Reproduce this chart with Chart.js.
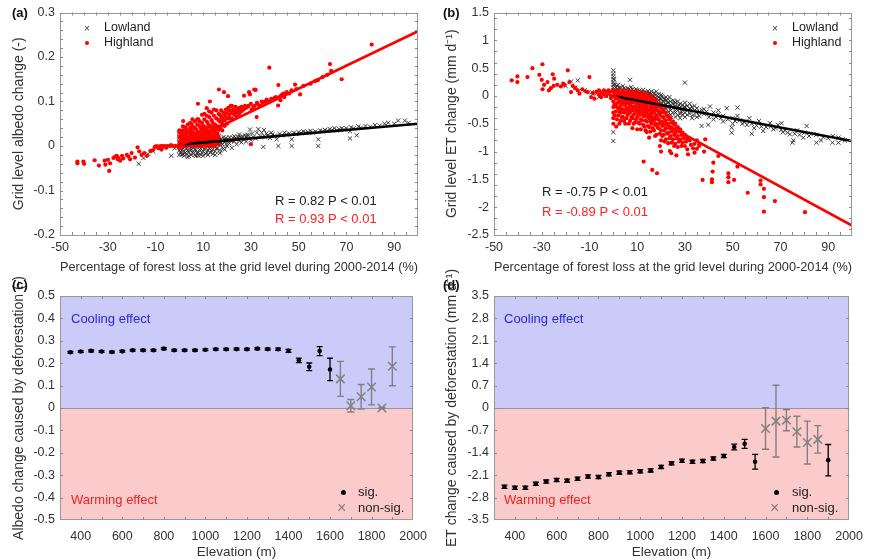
<!DOCTYPE html>
<html><head><meta charset="utf-8">
<script src="https://cdn.jsdelivr.net/npm/chart.js@4.4.1/dist/chart.umd.min.js"></script>
<style>
body{margin:0;background:#fff;}
#wrap{position:relative;width:872px;height:560px;overflow:hidden;font-family:"Liberation Sans",Arial,sans-serif;color:#222;}
canvas{position:absolute;}
.t{position:absolute;white-space:nowrap;font-size:13px;line-height:15px;}
.b{font-weight:bold;color:#111;}
.dot{position:absolute;border-radius:50%;}
</style></head><body><div id="wrap">
<canvas id="ca" width="436" height="280" style="left:0;top:0"></canvas>
<canvas id="cb" width="436" height="280" style="left:436px;top:0"></canvas>
<canvas id="cc" width="436" height="298" style="left:0;top:262px"></canvas>
<canvas id="cd" width="436" height="298" style="left:436px;top:262px"></canvas>

<div class="t b" style="left:12px;top:5px">(a)</div>
<div class="t b" style="left:443px;top:5px">(b)</div>
<div class="t b" style="left:12px;top:277px">(c)</div>
<div class="t b" style="left:443px;top:277px">(d)</div>

<div class="t" style="left:84px;top:21px;font-size:10px;color:#333">×</div>
<div class="t" style="left:104px;top:20px;font-size:12.5px">Lowland</div>
<div class="dot" style="left:85px;top:41px;width:4px;height:4px;background:#ff0000"></div>
<div class="t" style="left:104px;top:35px;font-size:12.5px">Highland</div>
<div class="t" style="left:772px;top:21px;font-size:10px;color:#333">×</div>
<div class="t" style="left:792px;top:20px;font-size:12.5px">Lowland</div>
<div class="dot" style="left:773px;top:41px;width:4px;height:4px;background:#ff0000"></div>
<div class="t" style="left:792px;top:35px;font-size:12.5px">Highland</div>

<div class="t" style="left:275px;top:193px;color:#222">R = 0.82 P &lt; 0.01</div>
<div class="t" style="left:275px;top:211px;color:#ff2020">R = 0.93 P &lt; 0.01</div>
<div class="t" style="left:542px;top:184px;color:#222">R = -0.75 P &lt; 0.01</div>
<div class="t" style="left:542px;top:204px;color:#ff2020">R = -0.89 P &lt; 0.01</div>

<div class="t" style="left:71px;top:311px;color:#2626e6">Cooling effect</div>
<div class="t" style="left:71px;top:492px;color:#ee2222">Warming effect</div>
<div class="t" style="left:504px;top:311px;color:#2626e6">Cooling effect</div>
<div class="t" style="left:504px;top:492px;color:#ee2222">Warming effect</div>

<div class="dot" style="left:341px;top:490px;width:5px;height:5px;background:#000"></div>
<div class="t" style="left:358px;top:484px">sig.</div>
<div class="t" style="left:337px;top:499px;font-size:16px;line-height:18px;color:#808080">×</div>
<div class="t" style="left:358px;top:500px">non-sig.</div>
<div class="dot" style="left:774px;top:490px;width:5px;height:5px;background:#000"></div>
<div class="t" style="left:792px;top:484px">sig.</div>
<div class="t" style="left:770px;top:499px;font-size:16px;line-height:18px;color:#808080">×</div>
<div class="t" style="left:792px;top:500px">non-sig.</div>
</div>
<script>
// ---------- DATA ----------
const forestTicks = [-50,-30,-10,10,30,50,70,90];
const albedoTicks = [-0.2,-0.1,0,0.1,0.2,0.3];
const etTicks = [-2.5,-2,-1.5,-1,-0.5,0,0.5,1,1.5];
const elevTicks = [400,600,800,1000,1200,1400,1600,1800,2000];
const albedoElevTicks = [-0.5,-0.4,-0.3,-0.2,-0.1,0,0.1,0.2,0.3,0.4,0.5];
const etElevTicks = [-3.5,-2.8,-2.1,-1.4,-0.7,0,0.7,1.4,2.1,2.8,3.5];

// (a) albedo change vs forest loss
const lowlandA = [[-17,-0.04],[-15,-0.027],[-13,-0.018],[-11,-0.012],[-8,-0.004],[-6,-0.002],[-3.4,-0.022],[-2,-0.005],[-1,0],
[0,0.03],[0,0.02],[0,0.01],[0,0],[0,-0.01],[0,-0.02],[0.3,0.025],[0.5,-0.015],
[1,-0.02],[1,-0.01],[1,0.005],[1.5,0.015],[2,-0.022],[2,-0.012],[2,0],[2.5,0.01],[3,-0.018],[3,-0.006],[3,0.008],[3.5,-0.025],[4,-0.015],[4,0],[4.5,0.012],[5,-0.02],[5,-0.008],[5,0.004],[5.5,0.015],[6,-0.017],[6,-0.004],[6.5,0.008],[7,-0.022],[7,-0.01],[7,0.003],[7.5,0.014],[8,-0.015],[8,0],[8.5,0.01],[9,-0.02],[9,-0.006],[9.5,0.006],[10,-0.012],[10,0.002],[10.5,0.015],[11,-0.018],[11,-0.004],[11.5,0.01],[12,-0.01],[12,0.004],[12.5,0.018],[13,-0.015],[13,0],[13.5,0.012],[14,-0.008],[14,0.007],[14.5,0.02],[15,-0.012],[15,0.003],[15.5,0.015],[16,-0.005],[16,0.01],[16.5,0.022],[17,-0.01],[17,0.005],[17.5,0.016],[18,-0.003],[18,0.012],[18.5,0.02],[19,-0.008],[19,0.008],[19.5,0.018],[20,0],[20,0.012],[21,0.006],[21,0.02],[22,-0.004],[22,0.014],[23,0.01],[23,0.022],[24,0.004],[24,0.016],[25,0.012],[25,0.026],[26,0.008],[26,0.018],[27,0.015],[28,0.02],[28,0.01],[29,0.024],[29.6,0.037],[30,0.014],[31,0.02],[32,0.017],[33.1,0.038],[34,0.022],[35.2,-0.002],[35.5,0.036],[36,0.02],[37,0.024],[38,0.018],[39,0.026],[40,0.023],[40.8,0.015],[41.5,0],[42,0.027],[43,0.024],[44,0.03],[45,0.026],[46,0.028],[47.1,0.015],[47.1,0],[48,0.03],[49,0.027],[50,0.031],[51,0.029],[52,0.033],[53,0.03],[54,0.031],[55,0.034],[56,0.03],[57,0.033],[58.2,0.015],[58.2,0],[59,0.035],[60,0.033],[61,0.036],[62,0.034],[63,0.038],[64,0.036],[65,0.04],[66,0.035],[67,0.038],[68,0.04],[69,0.037],[70,0.04],[71.5,0.017],[71.5,0.033],[72,0.042],[73,0.04],[74.3,0.024],[75,0.044],[76,0.041],[78,0.045],[80,0.043],[82,0.047],[84,0.046],[86,0.05],[87.5,0.052],[90,0.05],[91.7,0.057],[94.5,0.057],[96,0.052],
[0.5,0],[1,0.018],[1.5,-0.018],[1.5,-0.005],[2,0.012],[2.5,-0.015],[2.5,-0.002],[3,0.018],[3.5,-0.01],[3.5,0.004],[4,-0.022],[4,0.01],[4.5,-0.008],[5,0.014],[5.5,-0.014],[5.5,0],[6,0.01],[6.5,-0.02],[6.5,-0.008],[7,0.012],[7.5,-0.016],[7.5,0],[8,-0.022],[8,0.01],[8.5,-0.008],[9,0.014],[9.5,-0.015],[9.5,-0.002],[10,-0.022],[10,0.012],[10.5,-0.006],[11,0.006],[11.5,-0.014],[11.5,0],[12,-0.02],[12,0.014],[12.5,-0.006],[13,0.006],[13.5,-0.01],[14,-0.018],[14,0.014],[14.5,0],[15,-0.02],[15,0.01],[15.5,-0.006],[16,0.004],[16.5,0.014],[17,-0.016],[17.5,0.008],[18,0.004],[18.5,-0.006],[19,0.014],[20,0.006],[20.5,0.015],[21.5,0.012],[22.5,0.018],[23.5,0.016],[24.5,0.02],[25.5,0.02],[26.5,0.022],[27.5,0.024],[28.5,0.025],[30.5,0.028],[32.5,0.03],[34.5,0.03],[36.5,0.028],[38.5,0.03]];
const highlandA = [[-42.7,-0.039],[-42.7,-0.035],[-40.2,-0.035],[-39.9,-0.04],[-35.5,-0.032],[-33.7,-0.044],[-31.3,-0.033],[-31,-0.042],[-29.9,-0.031],[-29.4,-0.056],[-29,-0.039],[-27.6,-0.027],[-26.9,-0.024],[-26.2,-0.022],[-25.5,-0.027],[-24.8,-0.033],[-25.8,-0.03],[-24,-0.022],[-23.5,-0.028],[-22,-0.02],[-21.3,-0.024],[-20.6,-0.03],[-20,-0.016],[-18.6,-0.026],[-17.5,-0.003],[-16.8,-0.012],[-15.8,-0.02],[-14.7,-0.016],[-13.6,-0.022],[-12.1,-0.011],[-11,-0.009],[-10.3,-0.002],[-9.5,0],[-8.8,-0.005],[-8,0],[-7,0],[-6,0],[-5.5,-0.004],[-5,0],[-4,0],[-3,0],[-2,0],[-1,0],[-7.5,-0.008],[-3.5,0.002],
[0,0.035],[0,0.03],[0,0.02],[0,0.01],[0,0],[0,-0.005],
[1,0],[1,0.012],[1,0.025],[1.6,0.056],[1.5,0.035],[2,0.005],[2,0.018],[2,0.03],[2.5,0.042],[3,0],[3,0.012],[3,0.024],[3,0.036],[3.5,0.048],[4,0.006],[4,0.018],[4,0.03],[4.5,0.04],[5,0],[5,0.012],[5,0.024],[5,0.035],[5,0.05],[5.5,0.06],[6,0.006],[6,0.018],[6,0.03],[6,0.042],[6.5,0.055],[7,0],[7,0.012],[7,0.025],[7,0.038],[7.5,0.048],[7.8,0.095],[8,0.006],[8,0.02],[8,0.032],[8,0.06],[8.5,0.045],[9,0],[9,0.014],[9,0.028],[9,0.04],[9.5,0.052],[9.5,0.07],[10,0.006],[10,0.02],[10,0.034],[10,0.046],[10.5,0.06],[11,0],[11,0.014],[11,0.028],[11,0.042],[11.5,0.055],[11.5,0.085],[12,0.008],[12,0.022],[12,0.036],[12,0.05],[12.5,0.065],[12.8,0.1],[13,0],[13,0.016],[13,0.03],[13,0.045],[13.5,0.058],[13.5,0.075],[14,0.008],[14,0.024],[14,0.038],[14,0.052],[14.5,0.068],[15,0.002],[15,0.018],[15,0.034],[15,0.048],[15.5,0.062],[15.5,0.08],[16,0.012],[16,0.028],[16,0.044],[16.6,0.127],[16.5,0.058],[16.5,0.072],[17,0.04],[17,0.055],[17.5,0.066],[18,0.05],[18,0.062],[18.7,0.121],[18.5,0.075],[19,0.058],[19,0.07],[19.5,0.082],[20,0.062],[20,0.074],[20.4,0.112],[20.5,0.086],[21,0.07],[21,0.08],[22,0.062],[22,0.075],[22,0.09],[22.6,0.013],[23,0.078],[23,0.07],[24,0.08],[24,0.066],[25,0.085],[25,0.072],[26,0.078],[26,0.088],[27.1,0.113],[27,0.082],[28,0.086],[29,0.09],[29.2,0.121],[29.6,0.116],[30,0.004],[30.3,0.082],[31,0.088],[31.4,0.127],[32,0.126],[32.4,0.065],[33,0.093],[34,0.09],[35,0.098],[36.6,0.104],[37,0.1],[37.7,0.176],[38,0.1],[39,0.105],[40,0.108],[41.4,0.091],[41.5,0.137],[42,0.11],[42.4,0.103],[43,0.115],[43.6,0.118],[44,0.11],[45,0.121],[46,0.118],[48.5,0.138],[50.6,0.116],[55,0.14],[58,0.148],[60,0.155],[63.1,0.184],[63.6,0.169],[68,0.15],[80.6,0.228],
[0.5,0.005],[0.5,0.018],[0.5,0.03],[1.5,0.008],[1.5,0.022],[1.5,0.044],[2.5,0.002],[2.5,0.015],[2.5,0.028],[3.5,0.006],[3.5,0.02],[3.5,0.032],[4.5,0.003],[4.5,0.015],[4.5,0.028],[4.5,0.052],[5.5,0.008],[5.5,0.02],[5.5,0.032],[5.5,0.045],[6.5,0.002],[6.5,0.014],[6.5,0.026],[6.5,0.04],[7.5,0.006],[7.5,0.018],[7.5,0.03],[7.5,0.06],[8.5,0.003],[8.5,0.015],[8.5,0.028],[8.5,0.055],[9.5,0.008],[9.5,0.02],[9.5,0.034],[10.5,0.003],[10.5,0.014],[10.5,0.027],[10.5,0.042],[10.5,0.072],[11.5,0.006],[11.5,0.02],[11.5,0.035],[11.5,0.068],[12.5,0],[12.5,0.014],[12.5,0.028],[12.5,0.044],[12.5,0.078],[13.5,0.006],[13.5,0.022],[13.5,0.038],[14.5,0],[14.5,0.016],[14.5,0.03],[14.5,0.045],[14.5,0.082],[15.5,0.008],[15.5,0.024],[15.5,0.04],[16.5,0.004],[16.5,0.02],[16.5,0.036],[17,0.07],[17.5,0.045],[17.5,0.08],[18,0.035],[18.5,0.058],[19,0.045],[19.5,0.065],[20,0.05],[21,0.062],[21.5,0.09],[22.5,0.082],[23.5,0.075],[23.5,0.088],[24.5,0.078],[25.5,0.08],[26.5,0.085],[27.5,0.09],[28.5,0.088],[30,0.095],[31.5,0.09],[32.5,0.097],[34.5,0.1],[36,0.1],[38.5,0.106],[40.5,0.11],[42.5,0.112],[44.5,0.118],[47,0.125],[49,0.128],[52,0.135],[57,0.146],[62,0.16]];
const fitLowA = [[0,0.003],[100,0.05]];
const fitHighA = [[0,0.0],[100,0.258]];

// (b) ET change vs forest loss
const lowlandB = [[-17.7,0.26],[-14.9,0.28],[-20,0.18],[-16,0.15],[-12,0.1],[-9,0.07],[-7,0.04],[-5,0.05],[-4,0.02],[-3,0],[-2,0.03],[-6,-0.02],
[0,0.46],[0,0.4],[0,0.35],[0,0.3],[0,0.25],[0,0.2],[0,0.15],[0,0.1],[0,-0.65],[0,-0.81],[0.3,0.3],[0.5,0.2],
[1,0.15],[1,0.1],[2,0.2],[2,0.12],[3,0.14],[3,0.08],[4,0.18],[4,0.1],[5,0.12],[5,0.06],[6,0.14],[6,0.08],[7,0.29],[7,0.1],[8,0.12],[8,0.05],[9,0.08],[9,0.02],[10,0.1],[10,0.04],[11,0.06],[11,0],[12,0.08],[12,0.02],[13,0.04],[13,-0.02],[14,0.06],[14,0],[15,0.02],[15,-0.04],[16,0.04],[16,-0.02],[17,0],[17,-0.06],[18,0.08],[18,-0.04],[19,-0.02],[19,-0.08],[20,0.02],[20,-0.06],[20,-0.12],[21,-0.04],[21,-0.1],[22,-0.02],[22,-0.08],[22,-0.16],[23,-0.06],[23,-0.12],[23,-0.2],[24,-0.1],[24,-0.16],[24,-0.26],[25,-0.08],[25,-0.14],[25,-0.22],[26,-0.12],[26,-0.18],[26,-0.3],[27,-0.1],[27,-0.2],[27,-0.26],[28,-0.14],[28,-0.22],[28,-0.32],[29,-0.16],[29,-0.24],[30,0.24],[30,-0.12],[30,-0.2],[30,-0.3],[31,-0.18],[31,-0.26],[32,-0.22],[32,-0.32],[33,-0.2],[33.5,-0.34],[34,-0.26],[35,-0.22],[35,-0.3],[36,-0.28],[37,-0.54],[37,-0.25],[38,-0.32],[39,-0.28],[39.8,-0.52],[40.5,-0.19],[41,-0.34],[42,-0.3],[43,-0.38],[44,-0.33],[45,-0.4],[46,-0.36],[47.5,-0.22],[48,-0.42],[49.6,-0.66],[49.6,-0.57],[50,-0.4],[51,-0.45],[52,-0.21],[53,-0.44],[54,-0.5],[55,-0.47],[56,-0.52],[58,-0.68],[58,-0.5],[60,-0.53],[62,-0.55],[62.8,-0.63],[64,-0.56],[65.6,-0.49],[67,-0.6],[68,-0.58],[70.3,-0.61],[70.5,-0.49],[72,-0.62],[73,-0.66],[74,-0.69],[75,-0.84],[75.4,-0.8],[76,-0.68],[78,-0.7],[79.6,-0.75],[81,-0.54],[82,-0.72],[85.1,-0.84],[85,-0.7],[88,-0.74],[90,-0.76],[91.8,-0.84],[94.3,-0.84],[94.3,-0.75],[96,-0.78],
[0.5,0.1],[1,0.05],[1.5,0.18],[2,0.06],[2.5,0.15],[3,0.03],[3.5,0.1],[4,0.05],[4.5,0.14],[5,0],[5.5,0.1],[6,0.03],[6.5,0.12],[7,0.05],[7.5,0.16],[8,0],[8.5,0.09],[9,-0.03],[9.5,0.12],[10,-0.02],[10.5,0.07],[11,0.1],[11.5,0.03],[12,-0.04],[12.5,0.11],[13,0.07],[13.5,0.01],[14,-0.05],[14.5,0.09],[15,0.05],[15.5,-0.02],[16,0.08],[16.5,0],[17,0.05],[17.5,-0.04],[18,0.02],[18.5,-0.1],[19,0.03],[19.5,-0.05],[20,-0.16],[20.5,0],[21,-0.18],[21.5,-0.06],[22,-0.22],[22.5,-0.12],[23,-0.28],[23.5,-0.02],[24,-0.34],[24.5,-0.2],[25,-0.3],[25.5,-0.1],[26,-0.38],[26.5,-0.24],[27,-0.34],[27.5,-0.16],[28,-0.4],[28.5,-0.28],[29,-0.34],[29.5,-0.2],[30,-0.38],[31,-0.34],[32,-0.14],[33,-0.4],[34,-0.18],[35,-0.38],[36,-0.36],[38,-0.24],[40,-0.38],[42,-0.42],[44,-0.26],[46,-0.46],[50,-0.5],[52,-0.36],[57,-0.4],[59,-0.58],[61,-0.45],[66,-0.55],[69,-0.52],[71,-0.65],[77,-0.62],[80,-0.66],[84,-0.68],[87,-0.8],[92,-0.72],[97,-0.8]];
const highlandB = [[-42.6,0.28],[-40.2,0.25],[-40.2,0.35],[-36,0.34],[-33.9,0.5],[-29.7,0.57],[-31,0.38],[-30,0.29],[-29.7,0.12],[-29,0.2],[-27.6,0.25],[-26.2,0.14],[-25.4,0.39],[-24.8,0.31],[-27,0.1],[-25,0.18],[-23.5,0.2],[-22,0.17],[-21,0.22],[-20.5,0.2],[-19.1,0.46],[-18.4,0.25],[-17.7,0.07],[-17,0.18],[-15.9,0.14],[-14.9,0.1],[-14.2,0.04],[-13,0.12],[-11.5,0.08],[-10.7,0.07],[-10,0.34],[-9.3,-0.02],[-8.5,0.05],[-7.9,-0.05],[-7,0.08],[-6,0.1],[-6,0.02],[-5,0.06],[-5,-0.02],[-4,0.1],[-4,0.03],[-3,0.08],[-3,0],[-2,0.1],[-2,0.04],[-1,0.08],[-1,0],[-1,-0.04],
[0,0.1],[0,0],[0,-0.1],[0,-0.2],[0,-0.3],[0,-0.4],[0,-0.5],[1.2,-0.55],[1,0.08],[1,-0.05],[1,-0.15],[1,-0.28],[2,0.1],[2,-0.02],[2,-0.12],[2,-0.22],[2,-0.35],[3,0.06],[3,-0.06],[3,-0.18],[3,-0.3],[3,-0.45],[4,0.1],[4,-0.02],[4,-0.1],[4,-0.24],[4,-0.38],[5,0.05],[5,-0.06],[5,-0.16],[5,-0.28],[5,-0.5],[6,0.1],[6,-0.02],[6,-0.12],[6,-0.22],[6,-0.34],[7,0.06],[7,-0.06],[7,-0.18],[7,-0.3],[7,-0.45],[8,0.08],[8,-0.02],[8,-0.12],[8,-0.26],[8,-0.4],[8,-0.58],[9,0.04],[9,-0.08],[9,-0.2],[9,-0.32],[9,-0.48],[10,0.08],[10,-0.04],[10,-0.14],[10,-0.26],[10,-0.38],[10,-0.6],[11,0.02],[11,-0.1],[11,-0.22],[11,-0.34],[11,-0.5],[12,0.06],[12,-0.06],[12,-0.16],[12,-0.3],[12,-0.44],[12.7,-1.18],[13,0],[13,-0.12],[13,-0.24],[13,-0.36],[13,-0.55],[14,0.04],[14,-0.08],[14,-0.2],[14,-0.32],[14,-0.46],[14,-0.65],[15,-0.02],[15,-0.14],[15,-0.26],[15,-0.4],[15,-0.56],[15,-0.75],[16,0],[16,-0.1],[16,-0.22],[16,-0.36],[16,-0.5],[16.3,-1.33],[17,-0.06],[17,-0.18],[17,-0.3],[17,-0.45],[17,-0.62],[18,-0.08],[18,-0.2],[18,-0.34],[18,-0.5],[18,-0.7],[18.3,-1.39],[19,-0.14],[19,-0.28],[19,-0.42],[19,-0.58],[20,-0.18],[20,-0.3],[20,-0.46],[20,-0.62],[20,-0.8],[20,-1.0],[21,-0.24],[21,-0.38],[21,-0.52],[21,-0.7],[22,-0.3],[22,-0.44],[22,-0.58],[22,-0.78],[23,-0.36],[23,-0.5],[23,-0.66],[23,-0.85],[23.7,-0.99],[24,-0.4],[24,-0.56],[24,-0.72],[24.3,-1.03],[25,-0.46],[25,-0.6],[25,-0.78],[26,-0.5],[26,-0.66],[26,-0.86],[26.4,-1.07],[27,-0.56],[27,-0.72],[27,-0.92],[28,-0.6],[28,-0.78],[29,-0.66],[29,-0.84],[30,-0.7],[30,-0.9],[31,-0.76],[31,-0.96],[31.3,-1.05],[32,-0.8],[33.4,-0.94],[34,-0.86],[34,-1.02],[35,-0.95],[36,-0.87],[36,-0.9],[37.4,-1.51],[38,-1.0],[38.5,-0.78],[41.3,-1.5],[41.3,-1.55],[41.6,-1.36],[41.9,-1.2],[44,-1.08],[48.2,-1.39],[48.2,-1.46],[48.2,-1.55],[50.6,-1.51],[52,-1.27],[56.3,-1.74],[61.7,-1.52],[61.7,-1.59],[63.1,-1.67],[63.1,-1.82],[63.1,-2.08],[67.7,-1.89],[80.3,-2.09],
[0.5,0.05],[0.5,-0.15],[0.5,-0.35],[1.5,0],[1.5,-0.2],[1.5,-0.42],[2.5,0.05],[2.5,-0.08],[2.5,-0.28],[2.5,-0.5],[3.5,0],[3.5,-0.12],[3.5,-0.24],[3.5,-0.38],[4.5,0.05],[4.5,-0.16],[4.5,-0.3],[4.5,-0.45],[5.5,0],[5.5,-0.1],[5.5,-0.22],[5.5,-0.4],[6.5,0.04],[6.5,-0.08],[6.5,-0.28],[6.5,-0.5],[7.5,0],[7.5,-0.12],[7.5,-0.24],[7.5,-0.38],[8.5,0.03],[8.5,-0.08],[8.5,-0.2],[8.5,-0.34],[8.5,-0.5],[9.5,-0.02],[9.5,-0.14],[9.5,-0.26],[9.5,-0.42],[10.5,0.02],[10.5,-0.1],[10.5,-0.2],[10.5,-0.32],[10.5,-0.48],[11.5,-0.04],[11.5,-0.16],[11.5,-0.28],[11.5,-0.42],[11.5,-0.6],[12.5,0],[12.5,-0.1],[12.5,-0.22],[12.5,-0.36],[12.5,-0.52],[13.5,-0.06],[13.5,-0.18],[13.5,-0.3],[13.5,-0.44],[13.5,-0.62],[14.5,-0.02],[14.5,-0.14],[14.5,-0.26],[14.5,-0.38],[14.5,-0.54],[15.5,-0.08],[15.5,-0.2],[15.5,-0.32],[15.5,-0.46],[15.5,-0.64],[16.5,-0.04],[16.5,-0.16],[16.5,-0.28],[16.5,-0.42],[16.5,-0.58],[17.5,-0.12],[17.5,-0.24],[17.5,-0.38],[17.5,-0.52],[17.5,-0.72],[18.5,-0.14],[18.5,-0.26],[18.5,-0.4],[18.5,-0.56],[19.5,-0.2],[19.5,-0.34],[19.5,-0.5],[19.5,-0.68],[19.5,-0.9],[20.5,-0.24],[20.5,-0.38],[20.5,-0.54],[20.5,-0.72],[21.5,-0.3],[21.5,-0.44],[21.5,-0.62],[21.5,-0.82],[22.5,-0.36],[22.5,-0.5],[22.5,-0.68],[23.5,-0.42],[23.5,-0.58],[23.5,-0.76],[24.5,-0.48],[24.5,-0.64],[24.5,-0.84],[25.5,-0.52],[25.5,-0.7],[25.5,-0.9],[26.5,-0.58],[26.5,-0.76],[27.5,-0.64],[27.5,-0.82],[28.5,-0.7],[28.5,-0.9],[29.5,-0.76],[30.5,-0.82],[32.5,-0.88],[35,-0.8]];
const fitLowB = [[0,0.0],[100,-0.81]];
const fitHighB = [[0,0.0],[100,-2.33]];

// (c),(d) elevation bins
const elevation = [350,400,450,500,550,600,650,700,750,800,850,900,950,1000,1050,1100,1150,1200,1250,1300,1350,1400,1450,1500,1550,1600,1650,1700,1750,1800,1850,1900];
const albedoElev = [0.249,0.252,0.255,0.252,0.250,0.253,0.258,0.258,0.258,0.265,0.258,0.258,0.258,0.260,0.262,0.262,0.263,0.262,0.265,0.263,0.262,0.255,0.213,0.184,0.254,0.172,0.130,0.010,0.050,0.094,0.000,0.186];
const albedoErr = [0.004,0.004,0.004,0.004,0.004,0.004,0.004,0.004,0.004,0.004,0.004,0.004,0.004,0.004,0.004,0.004,0.004,0.004,0.004,0.004,0.005,0.007,0.010,0.017,0.020,0.050,0.078,0.028,0.055,0.080,0.003,0.087];
const albedoSig = [1,1,1,1,1,1,1,1,1,1,1,1,1,1,1,1,1,1,1,1,1,1,1,1,1,1,0,0,0,0,0,0];
const etElev = [-2.46,-2.49,-2.49,-2.37,-2.30,-2.25,-2.27,-2.21,-2.14,-2.16,-2.07,-2.02,-2.01,-1.98,-1.95,-1.84,-1.73,-1.65,-1.68,-1.66,-1.58,-1.50,-1.22,-1.12,-1.68,-0.64,-0.41,-0.38,-0.74,-1.08,-0.98,-1.63];
const etErr = [0.05,0.05,0.05,0.05,0.05,0.05,0.05,0.05,0.05,0.05,0.05,0.05,0.05,0.05,0.05,0.05,0.05,0.05,0.05,0.05,0.05,0.05,0.09,0.14,0.23,0.65,1.12,0.33,0.48,0.67,0.43,0.49];
const etSig = [1,1,1,1,1,1,1,1,1,1,1,1,1,1,1,1,1,1,1,1,1,1,1,1,1,0,0,0,0,0,0,1];

// ---------- RENDERING ----------
const FONT = '"Liberation Sans", Arial, sans-serif';
const pts = a => a.map(p => ({x:p[0], y:p[1]}));
const fmt = v => Math.abs(v) < 1e-9 ? '0' : String(parseFloat(Number(v).toFixed(2)));
function range(a, b, s){ const r=[]; for(let v=a; v<=b+1e-9; v+=s) r.push(+v.toFixed(4)); return r; }

const FRAME = {
  ca:{xt:range(-50,100,5), yt:range(-0.2,0.3,0.02)},
  cb:{xt:range(-50,100,5), yt:range(-2.4,1.4,0.2)},
  cc:{xt:range(300,2000,100), yt:albedoElevTicks, shade:true},
  cd:{xt:range(300,2000,100), yt:etElevTicks, shade:true}
};
const ERR = {};

const axisFrame = {
  id:'axisFrame',
  beforeDatasetsDraw(chart){
    const f = FRAME[chart.canvas.id]; const {ctx, chartArea:a, scales:{x,y}} = chart;
    ctx.save();
    if (f.shade){
      const y0 = y.getPixelForValue(0);
      ctx.fillStyle = 'rgb(203,203,250)'; ctx.fillRect(a.left, a.top, a.width, y0 - a.top);
      ctx.fillStyle = 'rgb(251,202,202)'; ctx.fillRect(a.left, y0, a.width, a.bottom - y0);
      ctx.strokeStyle = 'rgba(120,120,140,0.7)'; ctx.lineWidth = 1;
      ctx.beginPath(); ctx.moveTo(a.left, Math.round(y0)+0.5); ctx.lineTo(a.right, Math.round(y0)+0.5); ctx.stroke();
    }
    const e = ERR[chart.canvas.id];
    if (e){
      e.forEach(g => {
        ctx.strokeStyle = g.color; ctx.lineWidth = g.width;
        g.x.forEach((xv,i) => {
          const px = x.getPixelForValue(xv), p1 = y.getPixelForValue(g.y[i]+g.e[i]), p2 = y.getPixelForValue(g.y[i]-g.e[i]);
          ctx.beginPath();
          ctx.moveTo(px, p1); ctx.lineTo(px, p2);
          ctx.moveTo(px-g.cap, p1); ctx.lineTo(px+g.cap, p1);
          ctx.moveTo(px-g.cap, p2); ctx.lineTo(px+g.cap, p2);
          ctx.stroke();
        });
      });
    }
    ctx.restore();
  },
  afterDraw(chart){
    const f = FRAME[chart.canvas.id]; const {ctx, chartArea:a, scales:{x,y}} = chart;
    ctx.save();
    ctx.strokeStyle = '#999'; ctx.lineWidth = 1;
    ctx.strokeRect(Math.round(a.left)+0.5, Math.round(a.top)+0.5, Math.round(a.width)-1, Math.round(a.height)-1);
    ctx.strokeStyle = '#8a8a8a';
    const L = 3;
    ctx.beginPath();
    f.xt.forEach(v => { const px = Math.round(x.getPixelForValue(v))+0.5; if (px < a.left+1 || px > a.right-1) return;
      ctx.moveTo(px, a.bottom); ctx.lineTo(px, a.bottom-L); ctx.moveTo(px, a.top); ctx.lineTo(px, a.top+L); });
    f.yt.forEach(v => { const py = Math.round(y.getPixelForValue(v))+0.5; if (py < a.top+1 || py > a.bottom-1) return;
      ctx.moveTo(a.left, py); ctx.lineTo(a.left+L, py); ctx.moveTo(a.right, py); ctx.lineTo(a.right-L, py); });
    ctx.stroke();
    ctx.restore();
  }
};

function makeChart(id, c){
  return new Chart(document.getElementById(id), {
    type:'scatter',
    data:{datasets:c.datasets},
    options:{
      responsive:false, animation:false, devicePixelRatio:1, events:[],
      layout:{padding:c.pad},
      plugins:{legend:{display:false}, tooltip:{enabled:false}},
      scales:{
        x:{type:'linear', min:c.xMin, max:c.xMax,
          afterBuildTicks:s => { s.ticks = c.xTicks.map(v => ({value:v})); },
          afterFit:s => { s.height = c.xH; },
          grid:{display:false, drawTicks:false}, border:{display:false},
          ticks:{padding:c.xPad, color:'#333', font:{size:12.5, family:FONT}, autoSkip:false, maxRotation:0, callback:v => fmt(v)},
          title:{display:true, text:c.xTitle, color:'#333', font:{size:13.5, family:FONT}, padding:{top:0, bottom:c.xTitlePad}}},
        y:{type:'linear', min:c.yMin, max:c.yMax,
          afterBuildTicks:s => { s.ticks = c.yTicks.map(v => ({value:v})); },
          afterFit:s => { s.width = c.yW; },
          grid:{display:false, drawTicks:false}, border:{display:false},
          ticks:{padding:5, color:'#333', font:{size:12.5, family:FONT}, autoSkip:false, callback:v => fmt(v)},
          title:{display:true, text:c.yTitle, color:'#333', font:{size:14, family:FONT}, padding:{top:c.yTitlePad, bottom:0}}}
      }
    },
    plugins:[axisFrame]
  });
}

function scatterSets(low, high, fitLow, fitHigh){
  return [
    {data:pts(fitHigh), showLine:true, borderColor:'#ff0000', borderWidth:2.6, pointRadius:0, order:1},
    {data:pts(fitLow), showLine:true, borderColor:'#000000', borderWidth:2.6, pointRadius:0, order:2},
    {data:pts(high), pointStyle:'circle', pointRadius:2.1, backgroundColor:'#ff0000', borderWidth:0, order:3},
    {data:pts(low), pointStyle:'crossRot', pointRadius:3, borderColor:'#2a2a2a', backgroundColor:'transparent', borderWidth:0.9, order:4}
  ];
}

function elevSets(id, vals, errs, sig){
  const sx=[], sy=[], se=[], nx=[], ny=[], ne=[];
  elevation.forEach((e,i) => { if (sig[i]) { sx.push(e); sy.push(vals[i]); se.push(errs[i]); } else { nx.push(e); ny.push(vals[i]); ne.push(errs[i]); } });
  ERR[id] = [{x:nx, y:ny, e:ne, color:'#808080', width:1.4, cap:3.5}, {x:sx, y:sy, e:se, color:'#000', width:1.3, cap:3}];
  return [
    {data:sx.map((x,i)=>({x, y:sy[i]})), pointStyle:'circle', pointRadius:2.3, backgroundColor:'#000', borderWidth:0, order:1},
    {data:nx.map((x,i)=>({x, y:ny[i]})), pointStyle:'crossRot', pointRadius:6, borderColor:'#808080', backgroundColor:'transparent', borderWidth:1.5, order:2}
  ];
}

const forestTitle = 'Percentage of forest loss at the grid level during 2000-2014 (%)';

makeChart('ca', {datasets:scatterSets(lowlandA, highlandA, fitLowA, fitHighA),
  pad:{left:0, right:18, top:10, bottom:0}, xMin:-50, xMax:100, yMin:-0.2, yMax:0.3,
  xTicks:forestTicks, yTicks:albedoTicks, xH:45, yW:60, xPad:5, xTitlePad:5, yTitlePad:11,
  xTitle:forestTitle, yTitle:'Grid level albedo change (-)'});

makeChart('cb', {datasets:scatterSets(lowlandB, highlandB, fitLowB, fitHighB),
  pad:{left:0, right:20, top:10, bottom:0}, xMin:-50, xMax:100, yMin:-2.5, yMax:1.5,
  xTicks:forestTicks, yTicks:etTicks, xH:45, yW:58, xPad:5, xTitlePad:5, yTitlePad:8,
  xTitle:forestTitle, yTitle:'Grid level ET change (mm d⁻¹)'});

makeChart('cc', {datasets:elevSets('cc', albedoElev, albedoErr, albedoSig),
  pad:{left:0, right:18, top:34, bottom:0}, xMin:300, xMax:2000, yMin:-0.5, yMax:0.5,
  xTicks:elevTicks, yTicks:albedoElevTicks, xH:40, yW:60, xPad:9, xTitlePad:0, yTitlePad:11,
  xTitle:'Elevation (m)', yTitle:'Albedo change caused by deforestation (-)'});

makeChart('cd', {datasets:elevSets('cd', etElev, etErr, etSig),
  pad:{left:0, right:21, top:34, bottom:0}, xMin:300, xMax:2000, yMin:-3.5, yMax:3.5,
  xTicks:elevTicks, yTicks:etElevTicks, xH:40, yW:58, xPad:9, xTitlePad:0, yTitlePad:8,
  xTitle:'Elevation (m)', yTitle:'ET change caused by deforestation (mm d⁻¹)'});
</script>
</body></html>
